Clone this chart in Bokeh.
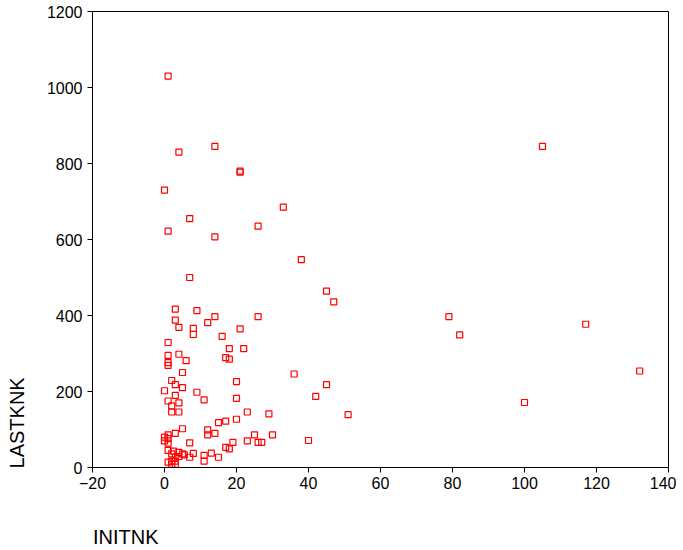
from bokeh.plotting import figure
from bokeh.models import Range1d, FixedTicker
from bokeh.embed import file_html
from bokeh.resources import INLINE

# INITNK (x) and LASTKNK (y) values
initnk = [1, 14, 4, 105, 21, 21, 0, 33, 7, 1, 26, 14, 38, 7, 45, 47, 79, 82, 117, 132,
          100, 51, 40, 42, 45, 36, 29, 30, 26, 23, 23, 25, 26, 27, 21, 22, 18, 17, 18, 20,
          20, 20, 17, 15, 19, 17, 18, 16, 14, 12, 9, 8, 8, 3, 3, 4, 1, 1, 1, 1,
          4, 6, 5, 2, 3, 5, 0, 9, 11, 3, 1, 4, 2, 2, 4, 5, 3, 0, 0, 1,
          1, 1, 7, 12, 12, 14, 13, 15, 11, 11, 8, 7, 1, 2.5, 4, 2, 5, 5.5, 1, 2,
          3, 2, 3, 3, 4]
lastknk = [1030, 845, 830, 845, 780, 777, 730, 685, 655, 622, 635, 607, 547, 500, 464, 436, 397, 349, 377, 254,
           171, 139, 71, 187, 218, 246, 141, 86, 397, 146, 70, 86, 66, 66, 365, 313, 313, 289, 285, 226,
           182, 127, 122, 118, 66, 53, 49, 345, 397, 381, 413, 366, 350, 417, 388, 369, 329, 295, 276, 269,
           298, 281, 250, 229, 218, 210, 202, 198, 178, 190, 175, 170, 162, 146, 146, 102, 90, 80, 70, 86,
           76, 64, 65, 99, 86, 90, 38, 27, 32, 17, 37, 27, 45, 43, 40, 36, 36, 33, 14, 17,
           17, 8, 8, 27, 29]

x_ticks = [-20, 0, 20, 40, 60, 80, 100, 120, 140]
y_ticks = [0, 200, 400, 600, 800, 1000, 1200]
x_title = "INITNK"
y_title = "LASTKNK"

FONT = "Liberation Sans"
NBSP = "\u00a0"

p = figure(width=676, height=550, output_backend="svg", toolbar_location=None,
           x_range=Range1d(-20, 140), y_range=Range1d(0, 1200),
           min_border_left=92, min_border_right=8, min_border_top=11, min_border_bottom=82)

p.xgrid.visible = False
p.ygrid.visible = False
p.background_fill_color = "white"
p.border_fill_color = "white"
p.outline_line_color = "black"
p.outline_line_width = 1
p.outline_line_alpha = 1

p.scatter(initnk, lastknk, marker="square", size=6, fill_color=None,
          line_color="#ff0000", line_width=1.2)

for ax, ticks in ((p.xaxis[0], x_ticks), (p.yaxis[0], y_ticks)):
    ax.ticker = FixedTicker(ticks=ticks)
    ax.minor_tick_line_color = None
    ax.major_tick_in = 0
    ax.major_tick_out = 5
    ax.axis_line_color = "black"
    ax.major_tick_line_color = "black"
    ax.major_label_text_font = FONT
    ax.major_label_text_font_size = "16px"
    ax.major_label_text_color = "black"
    ax.axis_label_text_font = FONT
    ax.axis_label_text_font_size = "20px"
    ax.axis_label_text_font_style = "normal"
    ax.axis_label_text_color = "black"
p.xaxis[0].major_label_standoff = 4
p.yaxis[0].major_label_standoff = 5

# x label: centred on the axis start; leading no-break spaces make it start there
p.xaxis[0].axis_label_align = "start"
p.xaxis[0].axis_label = NBSP * 12 + x_title
# y label: centred on the axis; trailing no-break spaces move it down to the axis start
p.yaxis[0].axis_label_align = "center"
p.yaxis[0].axis_label = y_title + NBSP * 66

p.xaxis[0].axis_label_standoff = 34
p.yaxis[0].axis_label_standoff = 16

open("out.html", "w").write(file_html(p, INLINE))
